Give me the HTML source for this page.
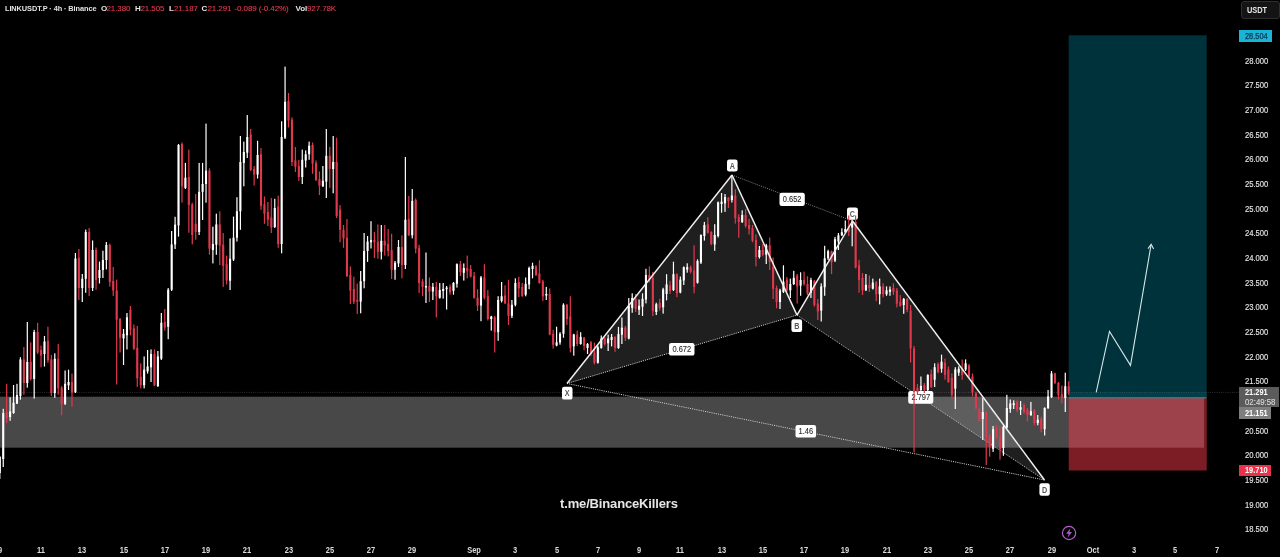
<!DOCTYPE html>
<html><head><meta charset="utf-8"><title>LINKUSDT.P 4h Binance</title>
<style>
html,body{margin:0;padding:0;background:#000;}
body{width:1280px;height:557px;overflow:hidden;position:relative;font-family:"Liberation Sans","DejaVu Sans",sans-serif;color:#d8d8d8;}
#chart{position:absolute;left:0;top:0;width:1280px;height:557px;filter:blur(0.35px)}
.legend{position:absolute;left:4.5px;top:2.5px;font-size:8px;line-height:11px;white-space:nowrap;color:#e4e4e4;font-weight:bold;letter-spacing:-0.1px}
.legend span{position:absolute;top:0}
.legend .r{color:#dc3a4f;font-weight:normal;-webkit-text-stroke:0.12px #dc3a4f}
.pl{position:absolute;left:1244.6px;width:30px;height:10px;line-height:10px;font-size:8.8px;transform:scaleX(0.868);transform-origin:0 50%;color:#e2e2e2;-webkit-text-stroke:0.15px #e2e2e2;text-align:left;white-space:nowrap}
.tl{position:absolute;top:544.8px;width:40px;height:10px;line-height:10px;font-size:8.5px;transform:scaleX(0.88);color:#dcdcdc;text-align:center;font-weight:bold}
.wm{position:absolute;left:560px;top:496px;font-size:13px;line-height:15px;font-weight:bold;color:#e6e6e6;white-space:nowrap;letter-spacing:-0.15px}
.unit{position:absolute;left:1241px;top:1px;width:39px;height:18px;border:1px solid #2e2e2e;border-radius:3px;background:#141414;box-sizing:border-box;color:#e6e6e6;font-size:8.6px;font-weight:bold;line-height:16.6px;text-align:left;padding-left:4.8px;letter-spacing:0}
.pt{position:absolute;left:1239px;font-size:8.8px;line-height:10px;color:#fff;white-space:nowrap;box-sizing:border-box;padding-left:5.5px;font-weight:bold;overflow:hidden}
.pt span{display:inline-block;transform:scaleX(0.84);transform-origin:0 50%}
</style></head><body>
<svg id="chart" width="1280" height="557" viewBox="0 0 1280 557" shape-rendering="auto">
<rect x="0" y="396.7" width="1204" height="51" fill="#484848"/>
<rect x="1068.7" y="35.3" width="138" height="363" fill="#00323b"/>
<rect x="1068.7" y="398.3" width="138" height="72.2" fill="#7c1d26"/>
<rect x="1068.7" y="398.3" width="135.3" height="49.4" fill="#9d424a"/>
<rect x="1068.7" y="392.4" width="137.8" height="5.4" fill="#003e49"/>
<rect x="1068.7" y="397.3" width="137.8" height="1.1" fill="#5f8c8e"/>
<polygon points="567,383.5 732,175 797,315.1" fill="#ffffff" fill-opacity="0.12"/>
<polygon points="797,315.1 852.5,221 1044.5,480" fill="#ffffff" fill-opacity="0.12"/>
<line x1="0" y1="392.4" x2="1240" y2="392.4" stroke="#8a8a8a" stroke-width="1" stroke-dasharray="1 1.2" opacity="0.34"/>
<line x1="567" y1="383.5" x2="797" y2="315.1" stroke="#cfcfcf" stroke-width="1" stroke-dasharray="1.1 1.1"/>
<line x1="732" y1="175" x2="852.5" y2="221" stroke="#7d7d7d" stroke-width="1" stroke-dasharray="1.1 1.1"/>
<line x1="797" y1="315.1" x2="1044.5" y2="480" stroke="#bdbdbd" stroke-width="1" stroke-dasharray="1.1 1.1"/>
<line x1="567" y1="383.5" x2="1044.5" y2="480" stroke="#cfcfcf" stroke-width="1" stroke-dasharray="1.1 1.1"/>
<rect x="727" y="159.5" width="10.6" height="12" rx="2.2" ry="2.2" fill="#ffffff"/>
<text transform="translate(732.30,0) scale(0.84,1)" x="0" y="168.55" font-size="8.6" text-anchor="middle" font-weight="bold" fill="#585858" font-family="Liberation Sans, DejaVu Sans, sans-serif">A</text>
<rect x="791.4" y="319.2" width="10.7" height="12.8" rx="2.2" ry="2.2" fill="#ffffff"/>
<text transform="translate(796.75,0) scale(0.84,1)" x="0" y="328.65" font-size="8.6" text-anchor="middle" font-weight="bold" fill="#585858" font-family="Liberation Sans, DejaVu Sans, sans-serif">B</text>
<rect x="847" y="207.4" width="10.9" height="12.4" rx="2.2" ry="2.2" fill="#ffffff"/>
<text transform="translate(852.45,0) scale(0.84,1)" x="0" y="216.65" font-size="8.6" text-anchor="middle" font-weight="bold" fill="#585858" font-family="Liberation Sans, DejaVu Sans, sans-serif">C</text>
<rect x="1039.4" y="483.3" width="10.4" height="12.4" rx="2.2" ry="2.2" fill="#ffffff"/>
<text transform="translate(1044.60,0) scale(0.84,1)" x="0" y="492.55" font-size="8.6" text-anchor="middle" font-weight="bold" fill="#585858" font-family="Liberation Sans, DejaVu Sans, sans-serif">D</text>
<rect x="562" y="386.8" width="10.5" height="12.8" rx="2.2" ry="2.2" fill="#ffffff"/>
<text transform="translate(567.25,0) scale(0.84,1)" x="0" y="396.25" font-size="8.6" text-anchor="middle" font-weight="bold" fill="#585858" font-family="Liberation Sans, DejaVu Sans, sans-serif">X</text>
<rect x="779.5" y="192.7" width="25.3" height="13.2" rx="2.2" ry="2.2" fill="#ffffff"/>
<text transform="translate(792.15,0) scale(0.87,1)" x="0" y="202.35" font-size="8.6" text-anchor="middle" fill="#2c2c2c" stroke="#2c2c2c" stroke-width="0.12" font-family="Liberation Sans, DejaVu Sans, sans-serif">0.652</text>
<rect x="669" y="343" width="25.5" height="12.6" rx="2.2" ry="2.2" fill="#ffffff"/>
<text transform="translate(681.75,0) scale(0.87,1)" x="0" y="352.35" font-size="8.6" text-anchor="middle" fill="#2c2c2c" stroke="#2c2c2c" stroke-width="0.12" font-family="Liberation Sans, DejaVu Sans, sans-serif">0.672</text>
<rect x="795.5" y="425" width="20.6" height="12.6" rx="2.2" ry="2.2" fill="#ffffff"/>
<text transform="translate(805.80,0) scale(0.87,1)" x="0" y="434.35" font-size="8.6" text-anchor="middle" fill="#2c2c2c" stroke="#2c2c2c" stroke-width="0.12" font-family="Liberation Sans, DejaVu Sans, sans-serif">1.46</text>
<rect x="908.2" y="391" width="25.1" height="12.7" rx="2.2" ry="2.2" fill="#ffffff"/>
<text transform="translate(920.75,0) scale(0.87,1)" x="0" y="400.40" font-size="8.6" text-anchor="middle" fill="#2c2c2c" stroke="#2c2c2c" stroke-width="0.12" font-family="Liberation Sans, DejaVu Sans, sans-serif">2.797</text>
<rect x="-0.80" y="456.0" width="1.2" height="23.0" fill="#ffffff"/>
<rect x="-1.25" y="457.0" width="2.1" height="16.0" fill="#ffffff"/>
<rect x="2.64" y="408.8" width="1.2" height="58.2" fill="#ffffff"/>
<rect x="2.19" y="413.0" width="2.1" height="46.0" fill="#ffffff"/>
<rect x="6.07" y="383.8" width="1.2" height="39.2" fill="#e0384d"/>
<rect x="5.62" y="412.0" width="2.1" height="6.5" fill="#e0384d"/>
<rect x="9.51" y="397.3" width="1.2" height="23.5" fill="#ffffff"/>
<rect x="9.06" y="411.4" width="2.1" height="5.6" fill="#ffffff"/>
<rect x="12.95" y="385.0" width="1.2" height="28.8" fill="#ffffff"/>
<rect x="12.50" y="402.8" width="2.1" height="10.2" fill="#ffffff"/>
<rect x="16.38" y="383.8" width="1.2" height="20.2" fill="#ffffff"/>
<rect x="15.93" y="395.0" width="2.1" height="8.6" fill="#ffffff"/>
<rect x="19.82" y="357.2" width="1.2" height="42.5" fill="#ffffff"/>
<rect x="19.37" y="359.5" width="2.1" height="36.5" fill="#ffffff"/>
<rect x="23.26" y="347.0" width="1.2" height="47.7" fill="#e0384d"/>
<rect x="22.81" y="359.5" width="2.1" height="23.5" fill="#e0384d"/>
<rect x="26.70" y="322.0" width="1.2" height="65.7" fill="#ffffff"/>
<rect x="26.25" y="362.0" width="2.1" height="21.0" fill="#ffffff"/>
<rect x="30.13" y="342.3" width="1.2" height="38.3" fill="#e0384d"/>
<rect x="29.68" y="362.0" width="2.1" height="17.0" fill="#e0384d"/>
<rect x="33.57" y="329.8" width="1.2" height="68.8" fill="#ffffff"/>
<rect x="33.12" y="332.0" width="2.1" height="47.0" fill="#ffffff"/>
<rect x="37.01" y="322.8" width="1.2" height="31.2" fill="#e0384d"/>
<rect x="36.56" y="332.0" width="2.1" height="20.5" fill="#e0384d"/>
<rect x="40.44" y="345.5" width="1.2" height="21.8" fill="#e0384d"/>
<rect x="39.99" y="350.0" width="2.1" height="5.6" fill="#e0384d"/>
<rect x="43.88" y="336.0" width="1.2" height="30.5" fill="#ffffff"/>
<rect x="43.43" y="341.5" width="2.1" height="12.5" fill="#ffffff"/>
<rect x="47.32" y="326.7" width="1.2" height="36.0" fill="#e0384d"/>
<rect x="46.87" y="340.8" width="2.1" height="19.5" fill="#e0384d"/>
<rect x="50.75" y="354.8" width="1.2" height="41.2" fill="#e0384d"/>
<rect x="50.30" y="359.5" width="2.1" height="33.5" fill="#e0384d"/>
<rect x="54.19" y="353.3" width="1.2" height="44.5" fill="#ffffff"/>
<rect x="53.74" y="358.8" width="2.1" height="34.2" fill="#ffffff"/>
<rect x="57.63" y="344.0" width="1.2" height="50.7" fill="#e0384d"/>
<rect x="57.18" y="358.8" width="2.1" height="29.6" fill="#e0384d"/>
<rect x="61.07" y="386.0" width="1.2" height="29.3" fill="#e0384d"/>
<rect x="60.62" y="387.7" width="2.1" height="16.7" fill="#e0384d"/>
<rect x="64.50" y="370.5" width="1.2" height="34.5" fill="#ffffff"/>
<rect x="64.05" y="383.8" width="2.1" height="19.9" fill="#ffffff"/>
<rect x="67.94" y="369.7" width="1.2" height="20.3" fill="#ffffff"/>
<rect x="67.49" y="382.0" width="2.1" height="3.3" fill="#ffffff"/>
<rect x="71.38" y="373.6" width="1.2" height="33.1" fill="#e0384d"/>
<rect x="70.93" y="382.0" width="2.1" height="10.3" fill="#e0384d"/>
<rect x="74.81" y="253.0" width="1.2" height="140.0" fill="#ffffff"/>
<rect x="74.36" y="258.5" width="2.1" height="133.8" fill="#ffffff"/>
<rect x="78.25" y="249.0" width="1.2" height="51.0" fill="#e0384d"/>
<rect x="77.80" y="257.7" width="2.1" height="30.3" fill="#e0384d"/>
<rect x="81.69" y="274.0" width="1.2" height="28.0" fill="#ffffff"/>
<rect x="81.24" y="278.8" width="2.1" height="9.2" fill="#ffffff"/>
<rect x="85.12" y="229.6" width="1.2" height="63.2" fill="#ffffff"/>
<rect x="84.67" y="232.0" width="2.1" height="46.8" fill="#ffffff"/>
<rect x="88.56" y="228.0" width="1.2" height="68.0" fill="#e0384d"/>
<rect x="88.11" y="232.0" width="2.1" height="56.0" fill="#e0384d"/>
<rect x="92.00" y="240.5" width="1.2" height="50.5" fill="#ffffff"/>
<rect x="91.55" y="250.0" width="2.1" height="38.0" fill="#ffffff"/>
<rect x="95.44" y="247.5" width="1.2" height="42.2" fill="#e0384d"/>
<rect x="94.99" y="250.0" width="2.1" height="30.0" fill="#e0384d"/>
<rect x="98.87" y="261.6" width="1.2" height="21.9" fill="#ffffff"/>
<rect x="98.42" y="270.0" width="2.1" height="8.0" fill="#ffffff"/>
<rect x="102.31" y="250.7" width="1.2" height="27.3" fill="#ffffff"/>
<rect x="101.86" y="260.0" width="2.1" height="10.0" fill="#ffffff"/>
<rect x="105.75" y="242.0" width="1.2" height="27.4" fill="#ffffff"/>
<rect x="105.30" y="245.0" width="2.1" height="15.0" fill="#ffffff"/>
<rect x="109.18" y="243.6" width="1.2" height="43.0" fill="#e0384d"/>
<rect x="108.73" y="245.0" width="2.1" height="37.0" fill="#e0384d"/>
<rect x="112.62" y="267.0" width="1.2" height="29.0" fill="#e0384d"/>
<rect x="112.17" y="281.0" width="2.1" height="9.5" fill="#e0384d"/>
<rect x="116.06" y="279.6" width="1.2" height="104.9" fill="#e0384d"/>
<rect x="115.61" y="290.5" width="2.1" height="29.2" fill="#e0384d"/>
<rect x="119.49" y="318.0" width="1.2" height="34.5" fill="#e0384d"/>
<rect x="119.04" y="319.0" width="2.1" height="18.7" fill="#e0384d"/>
<rect x="122.93" y="329.0" width="1.2" height="36.0" fill="#ffffff"/>
<rect x="122.48" y="333.8" width="2.1" height="4.6" fill="#ffffff"/>
<rect x="126.37" y="313.0" width="1.2" height="36.4" fill="#ffffff"/>
<rect x="125.92" y="317.3" width="2.1" height="18.0" fill="#ffffff"/>
<rect x="129.81" y="306.0" width="1.2" height="29.3" fill="#e0384d"/>
<rect x="129.36" y="310.0" width="2.1" height="19.8" fill="#e0384d"/>
<rect x="133.24" y="324.4" width="1.2" height="25.6" fill="#e0384d"/>
<rect x="132.79" y="328.3" width="2.1" height="20.3" fill="#e0384d"/>
<rect x="136.68" y="326.0" width="1.2" height="60.9" fill="#e0384d"/>
<rect x="136.23" y="347.8" width="2.1" height="30.5" fill="#e0384d"/>
<rect x="140.12" y="363.4" width="1.2" height="25.0" fill="#e0384d"/>
<rect x="139.67" y="376.7" width="2.1" height="8.6" fill="#e0384d"/>
<rect x="143.55" y="356.4" width="1.2" height="32.0" fill="#ffffff"/>
<rect x="143.10" y="369.7" width="2.1" height="15.6" fill="#ffffff"/>
<rect x="146.99" y="350.0" width="1.2" height="23.6" fill="#ffffff"/>
<rect x="146.54" y="366.5" width="2.1" height="4.8" fill="#ffffff"/>
<rect x="150.43" y="349.4" width="1.2" height="32.6" fill="#ffffff"/>
<rect x="149.98" y="354.0" width="2.1" height="13.3" fill="#ffffff"/>
<rect x="153.87" y="349.4" width="1.2" height="36.6" fill="#e0384d"/>
<rect x="153.41" y="354.0" width="2.1" height="31.3" fill="#e0384d"/>
<rect x="157.30" y="351.0" width="1.2" height="36.0" fill="#ffffff"/>
<rect x="156.85" y="356.4" width="2.1" height="29.6" fill="#ffffff"/>
<rect x="160.74" y="313.0" width="1.2" height="47.0" fill="#ffffff"/>
<rect x="160.29" y="322.8" width="2.1" height="35.9" fill="#ffffff"/>
<rect x="164.18" y="309.0" width="1.2" height="21.6" fill="#e0384d"/>
<rect x="163.73" y="322.0" width="2.1" height="5.5" fill="#e0384d"/>
<rect x="167.61" y="288.0" width="1.2" height="51.2" fill="#ffffff"/>
<rect x="167.16" y="289.7" width="2.1" height="37.0" fill="#ffffff"/>
<rect x="171.05" y="231.0" width="1.2" height="60.0" fill="#ffffff"/>
<rect x="170.60" y="244.4" width="2.1" height="45.3" fill="#ffffff"/>
<rect x="174.49" y="216.8" width="1.2" height="32.2" fill="#ffffff"/>
<rect x="174.04" y="224.6" width="2.1" height="19.8" fill="#ffffff"/>
<rect x="177.92" y="144.0" width="1.2" height="92.6" fill="#ffffff"/>
<rect x="177.47" y="145.0" width="2.1" height="80.4" fill="#ffffff"/>
<rect x="181.36" y="142.5" width="1.2" height="60.2" fill="#e0384d"/>
<rect x="180.91" y="144.0" width="2.1" height="42.3" fill="#e0384d"/>
<rect x="184.80" y="162.9" width="1.2" height="26.1" fill="#ffffff"/>
<rect x="184.35" y="177.7" width="2.1" height="10.2" fill="#ffffff"/>
<rect x="188.24" y="149.6" width="1.2" height="83.1" fill="#e0384d"/>
<rect x="187.78" y="177.0" width="2.1" height="28.0" fill="#e0384d"/>
<rect x="191.67" y="202.7" width="1.2" height="41.7" fill="#e0384d"/>
<rect x="191.22" y="204.3" width="2.1" height="30.7" fill="#e0384d"/>
<rect x="195.11" y="194.0" width="1.2" height="45.7" fill="#e0384d"/>
<rect x="194.66" y="223.8" width="2.1" height="8.2" fill="#e0384d"/>
<rect x="198.55" y="162.9" width="1.2" height="72.1" fill="#ffffff"/>
<rect x="198.10" y="191.8" width="2.1" height="40.2" fill="#ffffff"/>
<rect x="201.98" y="162.9" width="1.2" height="57.1" fill="#ffffff"/>
<rect x="201.53" y="184.0" width="2.1" height="7.8" fill="#ffffff"/>
<rect x="205.42" y="123.6" width="1.2" height="79.1" fill="#ffffff"/>
<rect x="204.97" y="170.7" width="2.1" height="13.3" fill="#ffffff"/>
<rect x="208.86" y="168.3" width="1.2" height="86.5" fill="#e0384d"/>
<rect x="208.41" y="170.7" width="2.1" height="77.9" fill="#e0384d"/>
<rect x="212.29" y="226.7" width="1.2" height="36.7" fill="#ffffff"/>
<rect x="211.84" y="244.0" width="2.1" height="6.0" fill="#ffffff"/>
<rect x="215.73" y="213.7" width="1.2" height="41.1" fill="#ffffff"/>
<rect x="215.28" y="224.4" width="2.1" height="20.3" fill="#ffffff"/>
<rect x="219.17" y="211.3" width="1.2" height="53.7" fill="#e0384d"/>
<rect x="218.72" y="224.4" width="2.1" height="21.1" fill="#e0384d"/>
<rect x="222.61" y="233.0" width="1.2" height="53.9" fill="#e0384d"/>
<rect x="222.16" y="244.7" width="2.1" height="21.1" fill="#e0384d"/>
<rect x="226.04" y="255.6" width="1.2" height="28.9" fill="#e0384d"/>
<rect x="225.59" y="264.2" width="2.1" height="16.4" fill="#e0384d"/>
<rect x="229.48" y="238.4" width="1.2" height="51.6" fill="#ffffff"/>
<rect x="229.03" y="258.8" width="2.1" height="21.9" fill="#ffffff"/>
<rect x="232.92" y="216.6" width="1.2" height="44.4" fill="#ffffff"/>
<rect x="232.47" y="237.7" width="2.1" height="21.8" fill="#ffffff"/>
<rect x="236.35" y="197.2" width="1.2" height="44.3" fill="#ffffff"/>
<rect x="235.90" y="211.3" width="2.1" height="26.4" fill="#ffffff"/>
<rect x="239.79" y="136.0" width="1.2" height="93.8" fill="#ffffff"/>
<rect x="239.34" y="162.0" width="2.1" height="49.3" fill="#ffffff"/>
<rect x="243.23" y="141.6" width="1.2" height="44.7" fill="#ffffff"/>
<rect x="242.78" y="152.0" width="2.1" height="10.9" fill="#ffffff"/>
<rect x="246.66" y="115.0" width="1.2" height="43.0" fill="#ffffff"/>
<rect x="246.21" y="137.0" width="2.1" height="15.7" fill="#ffffff"/>
<rect x="250.10" y="129.0" width="1.2" height="42.0" fill="#e0384d"/>
<rect x="249.65" y="134.5" width="2.1" height="35.5" fill="#e0384d"/>
<rect x="253.54" y="166.0" width="1.2" height="19.5" fill="#e0384d"/>
<rect x="253.09" y="169.0" width="2.1" height="5.6" fill="#e0384d"/>
<rect x="256.97" y="140.8" width="1.2" height="37.7" fill="#ffffff"/>
<rect x="256.52" y="155.0" width="2.1" height="19.6" fill="#ffffff"/>
<rect x="260.41" y="148.0" width="1.2" height="61.8" fill="#e0384d"/>
<rect x="259.96" y="154.3" width="2.1" height="51.5" fill="#e0384d"/>
<rect x="263.85" y="196.5" width="1.2" height="27.3" fill="#e0384d"/>
<rect x="263.40" y="204.3" width="2.1" height="9.3" fill="#e0384d"/>
<rect x="267.29" y="202.0" width="1.2" height="24.0" fill="#e0384d"/>
<rect x="266.84" y="212.0" width="2.1" height="7.7" fill="#e0384d"/>
<rect x="270.72" y="198.0" width="1.2" height="35.0" fill="#e0384d"/>
<rect x="270.27" y="217.5" width="2.1" height="10.0" fill="#e0384d"/>
<rect x="274.16" y="198.8" width="1.2" height="29.2" fill="#ffffff"/>
<rect x="273.71" y="208.0" width="2.1" height="19.0" fill="#ffffff"/>
<rect x="277.60" y="195.7" width="1.2" height="52.1" fill="#e0384d"/>
<rect x="277.15" y="206.6" width="2.1" height="37.4" fill="#e0384d"/>
<rect x="281.03" y="121.3" width="1.2" height="132.0" fill="#ffffff"/>
<rect x="280.58" y="137.0" width="2.1" height="107.0" fill="#ffffff"/>
<rect x="284.47" y="66.6" width="1.2" height="72.4" fill="#ffffff"/>
<rect x="284.02" y="101.8" width="2.1" height="35.9" fill="#ffffff"/>
<rect x="287.91" y="93.0" width="1.2" height="34.5" fill="#e0384d"/>
<rect x="287.46" y="101.0" width="2.1" height="19.5" fill="#e0384d"/>
<rect x="291.34" y="117.4" width="1.2" height="48.6" fill="#e0384d"/>
<rect x="290.89" y="119.7" width="2.1" height="42.3" fill="#e0384d"/>
<rect x="294.78" y="147.0" width="1.2" height="25.0" fill="#e0384d"/>
<rect x="294.33" y="160.5" width="2.1" height="6.3" fill="#e0384d"/>
<rect x="298.22" y="159.8" width="1.2" height="21.1" fill="#e0384d"/>
<rect x="297.77" y="166.0" width="2.1" height="11.0" fill="#e0384d"/>
<rect x="301.66" y="149.6" width="1.2" height="34.4" fill="#ffffff"/>
<rect x="301.21" y="159.8" width="2.1" height="17.2" fill="#ffffff"/>
<rect x="305.09" y="150.4" width="1.2" height="17.1" fill="#ffffff"/>
<rect x="304.64" y="154.3" width="2.1" height="6.2" fill="#ffffff"/>
<rect x="308.53" y="141.6" width="1.2" height="18.2" fill="#ffffff"/>
<rect x="308.08" y="145.7" width="2.1" height="8.6" fill="#ffffff"/>
<rect x="311.97" y="142.5" width="1.2" height="31.3" fill="#e0384d"/>
<rect x="311.52" y="145.0" width="2.1" height="18.6" fill="#e0384d"/>
<rect x="315.40" y="160.5" width="1.2" height="20.5" fill="#e0384d"/>
<rect x="314.95" y="162.9" width="2.1" height="17.1" fill="#e0384d"/>
<rect x="318.84" y="171.5" width="1.2" height="23.5" fill="#e0384d"/>
<rect x="318.39" y="179.3" width="2.1" height="6.2" fill="#e0384d"/>
<rect x="322.28" y="166.0" width="1.2" height="21.0" fill="#ffffff"/>
<rect x="321.83" y="180.8" width="2.1" height="5.5" fill="#ffffff"/>
<rect x="325.71" y="129.0" width="1.2" height="69.0" fill="#ffffff"/>
<rect x="325.26" y="155.8" width="2.1" height="25.8" fill="#ffffff"/>
<rect x="329.15" y="147.0" width="1.2" height="40.9" fill="#e0384d"/>
<rect x="328.70" y="155.8" width="2.1" height="13.2" fill="#e0384d"/>
<rect x="332.59" y="136.0" width="1.2" height="57.3" fill="#ffffff"/>
<rect x="332.14" y="162.0" width="2.1" height="7.0" fill="#ffffff"/>
<rect x="336.03" y="137.7" width="1.2" height="80.3" fill="#e0384d"/>
<rect x="335.58" y="162.0" width="2.1" height="54.0" fill="#e0384d"/>
<rect x="339.46" y="205.0" width="1.2" height="37.3" fill="#e0384d"/>
<rect x="339.01" y="209.8" width="2.1" height="20.1" fill="#e0384d"/>
<rect x="342.90" y="225.0" width="1.2" height="22.8" fill="#e0384d"/>
<rect x="342.45" y="229.8" width="2.1" height="8.6" fill="#e0384d"/>
<rect x="346.34" y="219.0" width="1.2" height="58.0" fill="#e0384d"/>
<rect x="345.89" y="237.7" width="2.1" height="38.3" fill="#e0384d"/>
<rect x="349.77" y="266.4" width="1.2" height="37.6" fill="#e0384d"/>
<rect x="349.32" y="275.0" width="2.1" height="15.6" fill="#e0384d"/>
<rect x="353.21" y="276.6" width="1.2" height="27.4" fill="#e0384d"/>
<rect x="352.76" y="289.0" width="2.1" height="12.6" fill="#e0384d"/>
<rect x="356.65" y="283.6" width="1.2" height="30.4" fill="#e0384d"/>
<rect x="356.20" y="300.0" width="2.1" height="1.6" fill="#e0384d"/>
<rect x="360.08" y="271.0" width="1.2" height="42.3" fill="#ffffff"/>
<rect x="359.63" y="281.2" width="2.1" height="20.4" fill="#ffffff"/>
<rect x="363.52" y="233.0" width="1.2" height="55.3" fill="#ffffff"/>
<rect x="363.07" y="251.0" width="2.1" height="30.2" fill="#ffffff"/>
<rect x="366.96" y="236.0" width="1.2" height="25.9" fill="#ffffff"/>
<rect x="366.51" y="241.6" width="2.1" height="9.4" fill="#ffffff"/>
<rect x="370.40" y="221.2" width="1.2" height="27.3" fill="#ffffff"/>
<rect x="369.95" y="240.0" width="2.1" height="2.3" fill="#ffffff"/>
<rect x="373.83" y="232.0" width="1.2" height="26.0" fill="#e0384d"/>
<rect x="373.38" y="240.0" width="2.1" height="2.3" fill="#e0384d"/>
<rect x="377.27" y="224.4" width="1.2" height="34.3" fill="#e0384d"/>
<rect x="376.82" y="241.6" width="2.1" height="10.1" fill="#e0384d"/>
<rect x="380.71" y="225.0" width="1.2" height="34.5" fill="#ffffff"/>
<rect x="380.26" y="240.8" width="2.1" height="10.9" fill="#ffffff"/>
<rect x="384.14" y="225.0" width="1.2" height="30.6" fill="#e0384d"/>
<rect x="383.69" y="240.8" width="2.1" height="4.7" fill="#e0384d"/>
<rect x="387.58" y="229.0" width="1.2" height="27.4" fill="#e0384d"/>
<rect x="387.13" y="244.0" width="2.1" height="7.0" fill="#e0384d"/>
<rect x="391.02" y="233.8" width="1.2" height="45.2" fill="#e0384d"/>
<rect x="390.57" y="250.0" width="2.1" height="19.7" fill="#e0384d"/>
<rect x="394.45" y="261.0" width="1.2" height="18.8" fill="#ffffff"/>
<rect x="394.00" y="262.7" width="2.1" height="7.0" fill="#ffffff"/>
<rect x="397.89" y="240.0" width="1.2" height="27.0" fill="#ffffff"/>
<rect x="397.44" y="247.0" width="2.1" height="16.4" fill="#ffffff"/>
<rect x="401.33" y="235.3" width="1.2" height="43.0" fill="#e0384d"/>
<rect x="400.88" y="247.0" width="2.1" height="18.0" fill="#e0384d"/>
<rect x="404.77" y="157.0" width="1.2" height="112.0" fill="#ffffff"/>
<rect x="404.32" y="219.7" width="2.1" height="45.3" fill="#ffffff"/>
<rect x="408.20" y="196.0" width="1.2" height="40.0" fill="#e0384d"/>
<rect x="407.75" y="218.9" width="2.1" height="16.4" fill="#e0384d"/>
<rect x="411.64" y="189.0" width="1.2" height="49.4" fill="#ffffff"/>
<rect x="411.19" y="200.8" width="2.1" height="34.5" fill="#ffffff"/>
<rect x="415.08" y="198.4" width="1.2" height="54.9" fill="#e0384d"/>
<rect x="414.63" y="200.0" width="2.1" height="48.6" fill="#e0384d"/>
<rect x="418.51" y="244.7" width="1.2" height="48.3" fill="#e0384d"/>
<rect x="418.06" y="247.8" width="2.1" height="35.2" fill="#e0384d"/>
<rect x="421.95" y="279.0" width="1.2" height="17.2" fill="#e0384d"/>
<rect x="421.50" y="281.4" width="2.1" height="5.5" fill="#e0384d"/>
<rect x="425.39" y="252.5" width="1.2" height="50.5" fill="#ffffff"/>
<rect x="424.94" y="286.0" width="2.1" height="1.5" fill="#ffffff"/>
<rect x="428.82" y="277.5" width="1.2" height="24.5" fill="#e0384d"/>
<rect x="428.38" y="286.0" width="2.1" height="5.5" fill="#e0384d"/>
<rect x="432.26" y="283.0" width="1.2" height="17.0" fill="#ffffff"/>
<rect x="431.81" y="286.9" width="2.1" height="4.6" fill="#ffffff"/>
<rect x="435.70" y="282.0" width="1.2" height="35.3" fill="#e0384d"/>
<rect x="435.25" y="286.9" width="2.1" height="9.4" fill="#e0384d"/>
<rect x="439.14" y="283.0" width="1.2" height="15.6" fill="#ffffff"/>
<rect x="438.69" y="290.0" width="2.1" height="7.8" fill="#ffffff"/>
<rect x="442.57" y="283.0" width="1.2" height="15.6" fill="#ffffff"/>
<rect x="442.12" y="289.0" width="2.1" height="2.0" fill="#ffffff"/>
<rect x="446.01" y="286.0" width="1.2" height="23.5" fill="#ffffff"/>
<rect x="445.56" y="287.6" width="2.1" height="1.6" fill="#ffffff"/>
<rect x="449.45" y="284.5" width="1.2" height="10.2" fill="#e0384d"/>
<rect x="449.00" y="286.9" width="2.1" height="5.4" fill="#e0384d"/>
<rect x="452.88" y="282.0" width="1.2" height="12.7" fill="#ffffff"/>
<rect x="452.43" y="283.0" width="2.1" height="7.8" fill="#ffffff"/>
<rect x="456.32" y="263.4" width="1.2" height="24.2" fill="#ffffff"/>
<rect x="455.87" y="264.2" width="2.1" height="19.6" fill="#ffffff"/>
<rect x="459.76" y="261.0" width="1.2" height="15.0" fill="#e0384d"/>
<rect x="459.31" y="264.2" width="2.1" height="7.8" fill="#e0384d"/>
<rect x="463.19" y="263.4" width="1.2" height="17.2" fill="#ffffff"/>
<rect x="462.75" y="268.0" width="2.1" height="4.8" fill="#ffffff"/>
<rect x="466.63" y="255.6" width="1.2" height="22.7" fill="#e0384d"/>
<rect x="466.18" y="268.0" width="2.1" height="3.2" fill="#e0384d"/>
<rect x="470.07" y="265.0" width="1.2" height="12.5" fill="#e0384d"/>
<rect x="469.62" y="269.0" width="2.1" height="7.7" fill="#e0384d"/>
<rect x="473.51" y="272.0" width="1.2" height="26.6" fill="#e0384d"/>
<rect x="473.06" y="276.0" width="2.1" height="21.8" fill="#e0384d"/>
<rect x="476.94" y="289.2" width="1.2" height="21.8" fill="#e0384d"/>
<rect x="476.49" y="297.8" width="2.1" height="7.8" fill="#e0384d"/>
<rect x="480.38" y="276.0" width="1.2" height="45.2" fill="#ffffff"/>
<rect x="479.93" y="277.5" width="2.1" height="28.1" fill="#ffffff"/>
<rect x="483.82" y="264.2" width="1.2" height="35.2" fill="#e0384d"/>
<rect x="483.37" y="277.5" width="2.1" height="20.3" fill="#e0384d"/>
<rect x="487.25" y="290.0" width="1.2" height="30.5" fill="#e0384d"/>
<rect x="486.80" y="296.2" width="2.1" height="22.8" fill="#e0384d"/>
<rect x="490.69" y="315.8" width="1.2" height="14.8" fill="#ffffff"/>
<rect x="490.24" y="316.5" width="2.1" height="2.5" fill="#ffffff"/>
<rect x="494.13" y="315.8" width="1.2" height="36.7" fill="#e0384d"/>
<rect x="493.68" y="317.3" width="2.1" height="14.9" fill="#e0384d"/>
<rect x="497.56" y="296.2" width="1.2" height="44.6" fill="#ffffff"/>
<rect x="497.11" y="300.0" width="2.1" height="32.2" fill="#ffffff"/>
<rect x="501.00" y="282.0" width="1.2" height="20.5" fill="#ffffff"/>
<rect x="500.55" y="296.2" width="2.1" height="4.8" fill="#ffffff"/>
<rect x="504.44" y="285.3" width="1.2" height="18.7" fill="#e0384d"/>
<rect x="503.99" y="295.5" width="2.1" height="7.8" fill="#e0384d"/>
<rect x="507.88" y="279.8" width="1.2" height="45.2" fill="#e0384d"/>
<rect x="507.43" y="303.3" width="2.1" height="12.5" fill="#e0384d"/>
<rect x="511.31" y="300.0" width="1.2" height="18.0" fill="#ffffff"/>
<rect x="510.86" y="304.8" width="2.1" height="11.0" fill="#ffffff"/>
<rect x="514.75" y="278.3" width="1.2" height="28.1" fill="#ffffff"/>
<rect x="514.30" y="283.0" width="2.1" height="21.8" fill="#ffffff"/>
<rect x="518.19" y="276.7" width="1.2" height="20.3" fill="#e0384d"/>
<rect x="517.74" y="282.0" width="2.1" height="6.4" fill="#e0384d"/>
<rect x="521.62" y="283.0" width="1.2" height="13.5" fill="#e0384d"/>
<rect x="521.17" y="286.9" width="2.1" height="9.4" fill="#e0384d"/>
<rect x="525.06" y="277.5" width="1.2" height="18.8" fill="#ffffff"/>
<rect x="524.61" y="283.8" width="2.1" height="10.9" fill="#ffffff"/>
<rect x="528.50" y="266.6" width="1.2" height="22.6" fill="#ffffff"/>
<rect x="528.05" y="268.0" width="2.1" height="16.5" fill="#ffffff"/>
<rect x="531.93" y="262.7" width="1.2" height="15.6" fill="#ffffff"/>
<rect x="531.49" y="265.8" width="2.1" height="3.2" fill="#ffffff"/>
<rect x="535.37" y="265.0" width="1.2" height="11.0" fill="#e0384d"/>
<rect x="534.92" y="266.6" width="2.1" height="8.4" fill="#e0384d"/>
<rect x="538.81" y="260.3" width="1.2" height="23.4" fill="#e0384d"/>
<rect x="538.36" y="273.6" width="2.1" height="9.4" fill="#e0384d"/>
<rect x="542.25" y="279.8" width="1.2" height="21.2" fill="#e0384d"/>
<rect x="541.80" y="281.4" width="2.1" height="14.9" fill="#e0384d"/>
<rect x="545.68" y="286.9" width="1.2" height="13.1" fill="#ffffff"/>
<rect x="545.23" y="294.0" width="2.1" height="1.5" fill="#ffffff"/>
<rect x="549.12" y="288.4" width="1.2" height="46.9" fill="#e0384d"/>
<rect x="548.67" y="294.0" width="2.1" height="40.5" fill="#e0384d"/>
<rect x="552.56" y="329.8" width="1.2" height="18.8" fill="#e0384d"/>
<rect x="552.11" y="333.8" width="2.1" height="10.9" fill="#e0384d"/>
<rect x="555.99" y="326.7" width="1.2" height="19.6" fill="#ffffff"/>
<rect x="555.54" y="342.3" width="2.1" height="3.2" fill="#ffffff"/>
<rect x="559.43" y="332.2" width="1.2" height="12.5" fill="#ffffff"/>
<rect x="558.98" y="333.8" width="2.1" height="8.6" fill="#ffffff"/>
<rect x="562.87" y="303.3" width="1.2" height="34.4" fill="#ffffff"/>
<rect x="562.42" y="304.8" width="2.1" height="28.9" fill="#ffffff"/>
<rect x="566.30" y="304.0" width="1.2" height="21.0" fill="#e0384d"/>
<rect x="565.86" y="304.8" width="2.1" height="14.2" fill="#e0384d"/>
<rect x="569.74" y="296.2" width="1.2" height="56.2" fill="#e0384d"/>
<rect x="569.29" y="316.5" width="2.1" height="31.3" fill="#e0384d"/>
<rect x="573.18" y="333.8" width="1.2" height="21.9" fill="#ffffff"/>
<rect x="572.73" y="334.5" width="2.1" height="11.8" fill="#ffffff"/>
<rect x="576.62" y="330.6" width="1.2" height="15.6" fill="#e0384d"/>
<rect x="576.17" y="334.5" width="2.1" height="9.5" fill="#e0384d"/>
<rect x="580.05" y="332.2" width="1.2" height="12.5" fill="#ffffff"/>
<rect x="579.60" y="336.9" width="2.1" height="7.1" fill="#ffffff"/>
<rect x="583.49" y="336.9" width="1.2" height="13.4" fill="#e0384d"/>
<rect x="583.04" y="337.7" width="2.1" height="8.3" fill="#e0384d"/>
<rect x="586.93" y="343.0" width="1.2" height="11.0" fill="#ffffff"/>
<rect x="586.48" y="344.0" width="2.1" height="4.0" fill="#ffffff"/>
<rect x="590.36" y="341.0" width="1.2" height="14.8" fill="#e0384d"/>
<rect x="589.91" y="342.5" width="2.1" height="10.9" fill="#e0384d"/>
<rect x="593.80" y="342.5" width="1.2" height="21.9" fill="#e0384d"/>
<rect x="593.35" y="352.6" width="2.1" height="10.2" fill="#e0384d"/>
<rect x="597.24" y="345.6" width="1.2" height="18.0" fill="#ffffff"/>
<rect x="596.79" y="347.2" width="2.1" height="15.6" fill="#ffffff"/>
<rect x="600.67" y="335.5" width="1.2" height="13.2" fill="#ffffff"/>
<rect x="600.23" y="338.6" width="2.1" height="9.4" fill="#ffffff"/>
<rect x="604.11" y="337.0" width="1.2" height="8.6" fill="#e0384d"/>
<rect x="603.66" y="338.6" width="2.1" height="5.4" fill="#e0384d"/>
<rect x="607.55" y="334.7" width="1.2" height="16.3" fill="#ffffff"/>
<rect x="607.10" y="338.6" width="2.1" height="4.7" fill="#ffffff"/>
<rect x="610.99" y="334.0" width="1.2" height="12.4" fill="#ffffff"/>
<rect x="610.54" y="337.0" width="2.1" height="3.0" fill="#ffffff"/>
<rect x="614.42" y="336.2" width="1.2" height="15.6" fill="#e0384d"/>
<rect x="613.97" y="337.0" width="2.1" height="11.0" fill="#e0384d"/>
<rect x="617.86" y="326.9" width="1.2" height="21.9" fill="#ffffff"/>
<rect x="617.41" y="334.0" width="2.1" height="14.0" fill="#ffffff"/>
<rect x="621.30" y="317.5" width="1.2" height="26.5" fill="#ffffff"/>
<rect x="620.85" y="327.7" width="2.1" height="7.0" fill="#ffffff"/>
<rect x="624.73" y="326.0" width="1.2" height="15.0" fill="#e0384d"/>
<rect x="624.28" y="327.7" width="2.1" height="10.1" fill="#e0384d"/>
<rect x="628.17" y="298.0" width="1.2" height="41.4" fill="#ffffff"/>
<rect x="627.72" y="305.8" width="2.1" height="32.8" fill="#ffffff"/>
<rect x="631.61" y="293.3" width="1.2" height="19.5" fill="#ffffff"/>
<rect x="631.16" y="298.0" width="2.1" height="10.0" fill="#ffffff"/>
<rect x="635.04" y="294.0" width="1.2" height="18.0" fill="#e0384d"/>
<rect x="634.59" y="298.8" width="2.1" height="10.2" fill="#e0384d"/>
<rect x="638.48" y="299.5" width="1.2" height="15.5" fill="#ffffff"/>
<rect x="638.03" y="305.8" width="2.1" height="3.9" fill="#ffffff"/>
<rect x="641.92" y="293.3" width="1.2" height="22.7" fill="#ffffff"/>
<rect x="641.47" y="298.8" width="2.1" height="7.9" fill="#ffffff"/>
<rect x="645.36" y="268.8" width="1.2" height="34.6" fill="#ffffff"/>
<rect x="644.91" y="275.0" width="2.1" height="24.5" fill="#ffffff"/>
<rect x="648.79" y="266.4" width="1.2" height="15.9" fill="#e0384d"/>
<rect x="648.34" y="275.0" width="2.1" height="4.7" fill="#e0384d"/>
<rect x="652.23" y="271.9" width="1.2" height="44.1" fill="#e0384d"/>
<rect x="651.78" y="278.0" width="2.1" height="33.2" fill="#e0384d"/>
<rect x="655.67" y="302.7" width="1.2" height="12.3" fill="#ffffff"/>
<rect x="655.22" y="304.2" width="2.1" height="7.8" fill="#ffffff"/>
<rect x="659.10" y="298.8" width="1.2" height="11.8" fill="#e0384d"/>
<rect x="658.65" y="302.7" width="2.1" height="5.3" fill="#e0384d"/>
<rect x="662.54" y="287.8" width="1.2" height="25.8" fill="#ffffff"/>
<rect x="662.09" y="289.4" width="2.1" height="17.9" fill="#ffffff"/>
<rect x="665.98" y="274.2" width="1.2" height="26.1" fill="#ffffff"/>
<rect x="665.53" y="284.4" width="2.1" height="9.6" fill="#ffffff"/>
<rect x="669.41" y="280.8" width="1.2" height="13.2" fill="#e0384d"/>
<rect x="668.96" y="285.5" width="2.1" height="5.5" fill="#e0384d"/>
<rect x="672.85" y="261.7" width="1.2" height="29.3" fill="#ffffff"/>
<rect x="672.40" y="274.2" width="2.1" height="15.8" fill="#ffffff"/>
<rect x="676.29" y="273.4" width="1.2" height="23.8" fill="#e0384d"/>
<rect x="675.84" y="274.2" width="2.1" height="19.1" fill="#e0384d"/>
<rect x="679.73" y="276.5" width="1.2" height="16.8" fill="#ffffff"/>
<rect x="679.28" y="279.7" width="2.1" height="12.8" fill="#ffffff"/>
<rect x="683.16" y="266.4" width="1.2" height="18.6" fill="#ffffff"/>
<rect x="682.71" y="267.2" width="2.1" height="13.3" fill="#ffffff"/>
<rect x="686.60" y="263.3" width="1.2" height="9.4" fill="#ffffff"/>
<rect x="686.15" y="267.2" width="2.1" height="2.3" fill="#ffffff"/>
<rect x="690.04" y="265.6" width="1.2" height="7.8" fill="#e0384d"/>
<rect x="689.59" y="267.2" width="2.1" height="4.7" fill="#e0384d"/>
<rect x="693.47" y="245.3" width="1.2" height="48.0" fill="#e0384d"/>
<rect x="693.02" y="270.3" width="2.1" height="16.7" fill="#e0384d"/>
<rect x="696.91" y="259.4" width="1.2" height="24.2" fill="#ffffff"/>
<rect x="696.46" y="261.0" width="2.1" height="21.8" fill="#ffffff"/>
<rect x="700.35" y="234.4" width="1.2" height="29.6" fill="#ffffff"/>
<rect x="699.90" y="235.0" width="2.1" height="27.5" fill="#ffffff"/>
<rect x="703.78" y="221.9" width="1.2" height="18.7" fill="#ffffff"/>
<rect x="703.33" y="225.0" width="2.1" height="11.0" fill="#ffffff"/>
<rect x="707.22" y="217.2" width="1.2" height="16.4" fill="#e0384d"/>
<rect x="706.77" y="224.2" width="2.1" height="8.6" fill="#e0384d"/>
<rect x="710.66" y="231.2" width="1.2" height="14.1" fill="#e0384d"/>
<rect x="710.21" y="232.0" width="2.1" height="11.8" fill="#e0384d"/>
<rect x="714.10" y="224.2" width="1.2" height="26.6" fill="#ffffff"/>
<rect x="713.65" y="235.0" width="2.1" height="9.5" fill="#ffffff"/>
<rect x="717.53" y="201.5" width="1.2" height="36.0" fill="#ffffff"/>
<rect x="717.08" y="202.3" width="2.1" height="33.7" fill="#ffffff"/>
<rect x="720.97" y="193.0" width="1.2" height="19.7" fill="#ffffff"/>
<rect x="720.52" y="201.7" width="2.1" height="2.3" fill="#ffffff"/>
<rect x="724.41" y="194.0" width="1.2" height="17.9" fill="#ffffff"/>
<rect x="723.96" y="197.0" width="2.1" height="6.3" fill="#ffffff"/>
<rect x="727.84" y="197.0" width="1.2" height="11.0" fill="#e0384d"/>
<rect x="727.39" y="197.8" width="2.1" height="3.2" fill="#e0384d"/>
<rect x="731.28" y="176.0" width="1.2" height="26.5" fill="#ffffff"/>
<rect x="730.83" y="195.5" width="2.1" height="4.5" fill="#ffffff"/>
<rect x="734.72" y="189.2" width="1.2" height="34.4" fill="#e0384d"/>
<rect x="734.27" y="195.5" width="2.1" height="22.5" fill="#e0384d"/>
<rect x="738.15" y="214.2" width="1.2" height="23.5" fill="#e0384d"/>
<rect x="737.70" y="217.3" width="2.1" height="4.7" fill="#e0384d"/>
<rect x="741.59" y="210.3" width="1.2" height="12.7" fill="#ffffff"/>
<rect x="741.14" y="215.0" width="2.1" height="7.0" fill="#ffffff"/>
<rect x="745.03" y="208.8" width="1.2" height="18.8" fill="#e0384d"/>
<rect x="744.58" y="215.0" width="2.1" height="11.0" fill="#e0384d"/>
<rect x="748.47" y="219.0" width="1.2" height="15.5" fill="#e0384d"/>
<rect x="748.02" y="225.0" width="2.1" height="4.0" fill="#e0384d"/>
<rect x="751.90" y="225.0" width="1.2" height="17.3" fill="#e0384d"/>
<rect x="751.45" y="228.3" width="2.1" height="12.5" fill="#e0384d"/>
<rect x="755.34" y="234.5" width="1.2" height="31.9" fill="#e0384d"/>
<rect x="754.89" y="240.0" width="2.1" height="17.0" fill="#e0384d"/>
<rect x="758.78" y="246.0" width="1.2" height="12.6" fill="#ffffff"/>
<rect x="758.33" y="250.0" width="2.1" height="7.0" fill="#ffffff"/>
<rect x="762.21" y="243.8" width="1.2" height="12.5" fill="#e0384d"/>
<rect x="761.76" y="250.0" width="2.1" height="4.7" fill="#e0384d"/>
<rect x="765.65" y="243.8" width="1.2" height="20.2" fill="#ffffff"/>
<rect x="765.20" y="245.3" width="2.1" height="9.4" fill="#ffffff"/>
<rect x="769.09" y="237.5" width="1.2" height="32.5" fill="#e0384d"/>
<rect x="768.64" y="245.3" width="2.1" height="16.7" fill="#e0384d"/>
<rect x="772.52" y="257.5" width="1.2" height="41.5" fill="#e0384d"/>
<rect x="772.07" y="266.9" width="2.1" height="21.9" fill="#e0384d"/>
<rect x="775.96" y="285.6" width="1.2" height="22.7" fill="#e0384d"/>
<rect x="775.51" y="288.0" width="2.1" height="14.0" fill="#e0384d"/>
<rect x="779.40" y="288.8" width="1.2" height="20.2" fill="#ffffff"/>
<rect x="778.95" y="290.3" width="2.1" height="11.7" fill="#ffffff"/>
<rect x="782.84" y="265.3" width="1.2" height="27.7" fill="#ffffff"/>
<rect x="782.39" y="281.7" width="2.1" height="10.2" fill="#ffffff"/>
<rect x="786.27" y="277.0" width="1.2" height="15.0" fill="#e0384d"/>
<rect x="785.82" y="279.4" width="2.1" height="10.9" fill="#e0384d"/>
<rect x="789.71" y="278.6" width="1.2" height="19.4" fill="#ffffff"/>
<rect x="789.26" y="284.0" width="2.1" height="6.3" fill="#ffffff"/>
<rect x="793.15" y="270.8" width="1.2" height="14.2" fill="#ffffff"/>
<rect x="792.70" y="277.8" width="2.1" height="6.2" fill="#ffffff"/>
<rect x="796.58" y="274.0" width="1.2" height="29.6" fill="#e0384d"/>
<rect x="796.13" y="275.5" width="2.1" height="10.9" fill="#e0384d"/>
<rect x="800.02" y="272.3" width="1.2" height="23.5" fill="#ffffff"/>
<rect x="799.57" y="280.0" width="2.1" height="5.6" fill="#ffffff"/>
<rect x="803.46" y="271.6" width="1.2" height="14.0" fill="#e0384d"/>
<rect x="803.01" y="280.0" width="2.1" height="4.0" fill="#e0384d"/>
<rect x="806.89" y="276.2" width="1.2" height="18.8" fill="#e0384d"/>
<rect x="806.44" y="284.0" width="2.1" height="9.4" fill="#e0384d"/>
<rect x="810.33" y="277.8" width="1.2" height="20.2" fill="#ffffff"/>
<rect x="809.88" y="280.0" width="2.1" height="12.7" fill="#ffffff"/>
<rect x="813.77" y="280.0" width="1.2" height="26.7" fill="#e0384d"/>
<rect x="813.32" y="281.0" width="2.1" height="24.0" fill="#e0384d"/>
<rect x="817.21" y="299.0" width="1.2" height="21.0" fill="#e0384d"/>
<rect x="816.76" y="303.6" width="2.1" height="7.8" fill="#e0384d"/>
<rect x="820.64" y="283.3" width="1.2" height="38.2" fill="#ffffff"/>
<rect x="820.19" y="286.4" width="2.1" height="24.2" fill="#ffffff"/>
<rect x="824.08" y="245.8" width="1.2" height="50.0" fill="#ffffff"/>
<rect x="823.63" y="258.3" width="2.1" height="28.9" fill="#ffffff"/>
<rect x="827.52" y="249.7" width="1.2" height="10.3" fill="#ffffff"/>
<rect x="827.07" y="251.2" width="2.1" height="7.1" fill="#ffffff"/>
<rect x="830.95" y="250.5" width="1.2" height="23.5" fill="#e0384d"/>
<rect x="830.50" y="251.2" width="2.1" height="10.9" fill="#e0384d"/>
<rect x="834.39" y="236.9" width="1.2" height="25.1" fill="#ffffff"/>
<rect x="833.94" y="239.2" width="2.1" height="21.4" fill="#ffffff"/>
<rect x="837.83" y="233.0" width="1.2" height="17.0" fill="#ffffff"/>
<rect x="837.38" y="235.3" width="2.1" height="6.2" fill="#ffffff"/>
<rect x="841.26" y="228.3" width="1.2" height="7.7" fill="#ffffff"/>
<rect x="840.81" y="232.2" width="2.1" height="3.1" fill="#ffffff"/>
<rect x="844.70" y="220.5" width="1.2" height="12.5" fill="#ffffff"/>
<rect x="844.25" y="229.0" width="2.1" height="3.2" fill="#ffffff"/>
<rect x="848.14" y="215.5" width="1.2" height="20.5" fill="#e0384d"/>
<rect x="847.69" y="226.0" width="2.1" height="6.2" fill="#e0384d"/>
<rect x="851.58" y="219.7" width="1.2" height="26.6" fill="#ffffff"/>
<rect x="851.13" y="223.6" width="2.1" height="3.9" fill="#ffffff"/>
<rect x="855.01" y="215.5" width="1.2" height="52.9" fill="#e0384d"/>
<rect x="854.56" y="222.0" width="2.1" height="45.7" fill="#e0384d"/>
<rect x="858.45" y="259.8" width="1.2" height="32.9" fill="#e0384d"/>
<rect x="858.00" y="265.3" width="2.1" height="14.7" fill="#e0384d"/>
<rect x="861.89" y="273.0" width="1.2" height="22.0" fill="#e0384d"/>
<rect x="861.44" y="277.8" width="2.1" height="12.5" fill="#e0384d"/>
<rect x="865.32" y="274.0" width="1.2" height="17.0" fill="#ffffff"/>
<rect x="864.87" y="284.8" width="2.1" height="5.5" fill="#ffffff"/>
<rect x="868.76" y="275.5" width="1.2" height="16.4" fill="#e0384d"/>
<rect x="868.31" y="284.8" width="2.1" height="3.2" fill="#e0384d"/>
<rect x="872.20" y="278.6" width="1.2" height="10.9" fill="#ffffff"/>
<rect x="871.75" y="282.5" width="2.1" height="6.2" fill="#ffffff"/>
<rect x="875.63" y="281.0" width="1.2" height="20.2" fill="#e0384d"/>
<rect x="875.18" y="282.5" width="2.1" height="11.7" fill="#e0384d"/>
<rect x="879.07" y="278.6" width="1.2" height="25.8" fill="#ffffff"/>
<rect x="878.62" y="286.4" width="2.1" height="7.8" fill="#ffffff"/>
<rect x="882.51" y="283.3" width="1.2" height="14.0" fill="#e0384d"/>
<rect x="882.06" y="286.4" width="2.1" height="7.8" fill="#e0384d"/>
<rect x="885.95" y="286.4" width="1.2" height="9.4" fill="#ffffff"/>
<rect x="885.50" y="290.3" width="2.1" height="3.9" fill="#ffffff"/>
<rect x="889.38" y="286.4" width="1.2" height="9.4" fill="#ffffff"/>
<rect x="888.93" y="289.5" width="2.1" height="2.4" fill="#ffffff"/>
<rect x="892.82" y="283.3" width="1.2" height="11.7" fill="#e0384d"/>
<rect x="892.37" y="288.0" width="2.1" height="3.9" fill="#e0384d"/>
<rect x="896.26" y="288.0" width="1.2" height="19.5" fill="#e0384d"/>
<rect x="895.81" y="290.3" width="2.1" height="13.3" fill="#e0384d"/>
<rect x="899.69" y="295.0" width="1.2" height="11.7" fill="#e0384d"/>
<rect x="899.24" y="302.0" width="2.1" height="4.0" fill="#e0384d"/>
<rect x="903.13" y="298.0" width="1.2" height="15.8" fill="#ffffff"/>
<rect x="902.68" y="299.0" width="2.1" height="6.0" fill="#ffffff"/>
<rect x="906.57" y="298.0" width="1.2" height="14.2" fill="#e0384d"/>
<rect x="906.12" y="299.0" width="2.1" height="10.8" fill="#e0384d"/>
<rect x="910.00" y="305.0" width="1.2" height="57.5" fill="#e0384d"/>
<rect x="909.55" y="310.6" width="2.1" height="37.8" fill="#e0384d"/>
<rect x="913.44" y="346.0" width="1.2" height="106.5" fill="#e0384d"/>
<rect x="912.99" y="348.4" width="2.1" height="43.6" fill="#e0384d"/>
<rect x="916.88" y="384.0" width="1.2" height="11.0" fill="#e0384d"/>
<rect x="916.43" y="388.0" width="2.1" height="4.0" fill="#e0384d"/>
<rect x="920.32" y="376.5" width="1.2" height="14.5" fill="#ffffff"/>
<rect x="919.87" y="386.0" width="2.1" height="4.0" fill="#ffffff"/>
<rect x="923.75" y="383.0" width="1.2" height="10.0" fill="#e0384d"/>
<rect x="923.30" y="385.0" width="2.1" height="5.0" fill="#e0384d"/>
<rect x="927.19" y="374.2" width="1.2" height="16.8" fill="#ffffff"/>
<rect x="926.74" y="375.0" width="2.1" height="15.0" fill="#ffffff"/>
<rect x="930.63" y="369.5" width="1.2" height="18.5" fill="#e0384d"/>
<rect x="930.18" y="374.2" width="2.1" height="12.8" fill="#e0384d"/>
<rect x="934.06" y="363.3" width="1.2" height="23.7" fill="#ffffff"/>
<rect x="933.61" y="367.2" width="2.1" height="12.5" fill="#ffffff"/>
<rect x="937.50" y="362.5" width="1.2" height="10.9" fill="#e0384d"/>
<rect x="937.05" y="364.0" width="2.1" height="8.0" fill="#e0384d"/>
<rect x="940.94" y="354.7" width="1.2" height="18.0" fill="#ffffff"/>
<rect x="940.49" y="361.7" width="2.1" height="7.1" fill="#ffffff"/>
<rect x="944.37" y="358.6" width="1.2" height="21.1" fill="#e0384d"/>
<rect x="943.92" y="362.5" width="2.1" height="12.5" fill="#e0384d"/>
<rect x="947.81" y="366.4" width="1.2" height="16.4" fill="#e0384d"/>
<rect x="947.36" y="369.5" width="2.1" height="12.5" fill="#e0384d"/>
<rect x="951.25" y="373.4" width="1.2" height="26.1" fill="#e0384d"/>
<rect x="950.80" y="378.0" width="2.1" height="16.8" fill="#e0384d"/>
<rect x="954.69" y="367.2" width="1.2" height="41.8" fill="#ffffff"/>
<rect x="954.24" y="369.5" width="2.1" height="19.1" fill="#ffffff"/>
<rect x="958.12" y="366.4" width="1.2" height="9.4" fill="#ffffff"/>
<rect x="957.67" y="368.8" width="2.1" height="3.9" fill="#ffffff"/>
<rect x="961.56" y="359.4" width="1.2" height="20.3" fill="#e0384d"/>
<rect x="961.11" y="368.8" width="2.1" height="6.2" fill="#e0384d"/>
<rect x="965.00" y="359.4" width="1.2" height="11.6" fill="#ffffff"/>
<rect x="964.55" y="363.3" width="2.1" height="6.2" fill="#ffffff"/>
<rect x="968.43" y="364.0" width="1.2" height="14.0" fill="#e0384d"/>
<rect x="967.98" y="365.6" width="2.1" height="11.0" fill="#e0384d"/>
<rect x="971.87" y="373.4" width="1.2" height="23.0" fill="#e0384d"/>
<rect x="971.42" y="376.6" width="2.1" height="15.9" fill="#e0384d"/>
<rect x="975.31" y="391.7" width="1.2" height="18.0" fill="#e0384d"/>
<rect x="974.86" y="393.3" width="2.1" height="14.7" fill="#e0384d"/>
<rect x="978.74" y="407.3" width="1.2" height="14.1" fill="#e0384d"/>
<rect x="978.29" y="409.0" width="2.1" height="11.6" fill="#e0384d"/>
<rect x="982.18" y="398.0" width="1.2" height="42.0" fill="#ffffff"/>
<rect x="981.73" y="412.0" width="2.1" height="7.0" fill="#ffffff"/>
<rect x="985.62" y="411.2" width="1.2" height="53.8" fill="#e0384d"/>
<rect x="985.17" y="412.0" width="2.1" height="25.0" fill="#e0384d"/>
<rect x="989.06" y="434.0" width="1.2" height="22.6" fill="#e0384d"/>
<rect x="988.61" y="436.2" width="2.1" height="10.9" fill="#e0384d"/>
<rect x="992.49" y="426.0" width="1.2" height="25.9" fill="#ffffff"/>
<rect x="992.04" y="429.2" width="2.1" height="19.6" fill="#ffffff"/>
<rect x="995.93" y="425.3" width="1.2" height="13.3" fill="#e0384d"/>
<rect x="995.48" y="427.7" width="2.1" height="10.1" fill="#e0384d"/>
<rect x="999.37" y="426.9" width="1.2" height="32.8" fill="#e0384d"/>
<rect x="998.92" y="437.0" width="2.1" height="11.8" fill="#e0384d"/>
<rect x="1002.80" y="425.3" width="1.2" height="30.5" fill="#ffffff"/>
<rect x="1002.35" y="426.9" width="2.1" height="21.1" fill="#ffffff"/>
<rect x="1006.24" y="394.8" width="1.2" height="33.6" fill="#ffffff"/>
<rect x="1005.79" y="408.0" width="2.1" height="19.7" fill="#ffffff"/>
<rect x="1009.68" y="399.5" width="1.2" height="13.3" fill="#ffffff"/>
<rect x="1009.23" y="403.4" width="2.1" height="5.6" fill="#ffffff"/>
<rect x="1013.11" y="400.3" width="1.2" height="8.7" fill="#ffffff"/>
<rect x="1012.66" y="403.4" width="2.1" height="1.6" fill="#ffffff"/>
<rect x="1016.55" y="400.3" width="1.2" height="11.7" fill="#e0384d"/>
<rect x="1016.10" y="401.9" width="2.1" height="7.8" fill="#e0384d"/>
<rect x="1019.99" y="401.0" width="1.2" height="14.0" fill="#ffffff"/>
<rect x="1019.54" y="407.3" width="2.1" height="2.4" fill="#ffffff"/>
<rect x="1023.43" y="403.4" width="1.2" height="10.2" fill="#e0384d"/>
<rect x="1022.98" y="405.0" width="2.1" height="7.0" fill="#e0384d"/>
<rect x="1026.86" y="408.0" width="1.2" height="13.4" fill="#e0384d"/>
<rect x="1026.41" y="409.7" width="2.1" height="5.3" fill="#e0384d"/>
<rect x="1030.30" y="401.9" width="1.2" height="14.1" fill="#ffffff"/>
<rect x="1029.85" y="411.2" width="2.1" height="3.8" fill="#ffffff"/>
<rect x="1033.74" y="409.0" width="1.2" height="16.3" fill="#e0384d"/>
<rect x="1033.29" y="410.5" width="2.1" height="12.5" fill="#e0384d"/>
<rect x="1037.17" y="415.0" width="1.2" height="10.3" fill="#ffffff"/>
<rect x="1036.72" y="419.8" width="2.1" height="3.2" fill="#ffffff"/>
<rect x="1040.61" y="416.7" width="1.2" height="15.6" fill="#e0384d"/>
<rect x="1040.16" y="419.0" width="2.1" height="10.2" fill="#e0384d"/>
<rect x="1044.05" y="407.3" width="1.2" height="28.2" fill="#ffffff"/>
<rect x="1043.60" y="408.0" width="2.1" height="21.2" fill="#ffffff"/>
<rect x="1047.48" y="390.0" width="1.2" height="19.0" fill="#ffffff"/>
<rect x="1047.03" y="396.4" width="2.1" height="11.6" fill="#ffffff"/>
<rect x="1050.92" y="371.0" width="1.2" height="27.0" fill="#ffffff"/>
<rect x="1050.47" y="373.4" width="2.1" height="23.8" fill="#ffffff"/>
<rect x="1054.36" y="372.7" width="1.2" height="11.3" fill="#e0384d"/>
<rect x="1053.91" y="373.4" width="2.1" height="9.4" fill="#e0384d"/>
<rect x="1057.80" y="382.0" width="1.2" height="17.5" fill="#e0384d"/>
<rect x="1057.35" y="383.0" width="2.1" height="11.8" fill="#e0384d"/>
<rect x="1061.23" y="385.5" width="1.2" height="17.9" fill="#e0384d"/>
<rect x="1060.78" y="394.0" width="2.1" height="4.0" fill="#e0384d"/>
<rect x="1064.67" y="372.7" width="1.2" height="39.3" fill="#ffffff"/>
<rect x="1064.22" y="386.2" width="2.1" height="11.8" fill="#ffffff"/>
<rect x="1068.11" y="381.2" width="1.2" height="13.6" fill="#e0384d"/>
<rect x="1067.66" y="386.2" width="2.1" height="5.4" fill="#e0384d"/>
<line x1="567" y1="383.5" x2="732" y2="175" stroke="#f2f2f2" stroke-width="1.45"/>
<line x1="732" y1="175" x2="797" y2="315.1" stroke="#f2f2f2" stroke-width="1.45"/>
<line x1="797" y1="315.1" x2="852.5" y2="221" stroke="#f2f2f2" stroke-width="1.45"/>
<line x1="852.5" y1="221" x2="1044.5" y2="480" stroke="#f2f2f2" stroke-width="1.45"/>
<polyline points="1096.2,392.3 1109.5,331.5 1130.5,365.4 1151.1,244.6" fill="none" stroke="#d5e6e8" stroke-width="1.1" stroke-linejoin="miter"/>
<polyline points="1148,248.6 1151.2,244.2 1153.6,249" fill="none" stroke="#d5e6e8" stroke-width="1.1"/>
<circle cx="1069.05" cy="533" r="6.6" fill="none" stroke="#b060c8" stroke-width="1.2"/>
<path d="M1070.4 528.3 L1066.1 533.7 L1068.7 533.7 L1067.6 537.7 L1072 532.1 L1069.4 532.1 Z" fill="#b455d0"/>
</svg>
<div class="legend">
<span style="left:0;transform:scaleX(0.922);transform-origin:0 0">LINKUSDT.P · 4h · Binance</span>
<span style="left:96.5px">O</span><span class="r" style="left:102px">21.380</span>
<span style="left:130.5px">H</span><span class="r" style="left:136px">21.505</span>
<span style="left:164.5px">L</span><span class="r" style="left:169.5px">21.187</span>
<span style="left:197px">C</span><span class="r" style="left:203px">21.291</span>
<span class="r" style="left:230px">-0.089 (-0.42%)</span>
<span style="left:291px">Vol</span><span class="r" style="left:302.5px">927.78K</span>
</div>

<div class="pl" style="top:55.55px">28.000</div><div class="pl" style="top:80.23px">27.500</div><div class="pl" style="top:104.90px">27.000</div><div class="pl" style="top:129.57px">26.500</div><div class="pl" style="top:154.25px">26.000</div><div class="pl" style="top:178.92px">25.500</div><div class="pl" style="top:203.60px">25.000</div><div class="pl" style="top:228.27px">24.500</div><div class="pl" style="top:252.95px">24.000</div><div class="pl" style="top:277.62px">23.500</div><div class="pl" style="top:302.30px">23.000</div><div class="pl" style="top:326.98px">22.500</div><div class="pl" style="top:351.65px">22.000</div><div class="pl" style="top:376.33px">21.500</div><div class="pl" style="top:425.68px">20.500</div><div class="pl" style="top:450.35px">20.000</div><div class="pl" style="top:475.03px">19.500</div><div class="pl" style="top:499.70px">19.000</div><div class="pl" style="top:524.38px">18.500</div>
<div class="tl" style="left:-20.2px">9</div><div class="tl" style="left:21.0px">11</div><div class="tl" style="left:62.3px">13</div><div class="tl" style="left:103.5px">15</div><div class="tl" style="left:144.8px">17</div><div class="tl" style="left:186.0px">19</div><div class="tl" style="left:227.3px">21</div><div class="tl" style="left:268.5px">23</div><div class="tl" style="left:309.8px">25</div><div class="tl" style="left:351.0px">27</div><div class="tl" style="left:392.2px">29</div><div class="tl" style="left:454.1px">Sep</div><div class="tl" style="left:495.3px">3</div><div class="tl" style="left:536.6px">5</div><div class="tl" style="left:577.8px">7</div><div class="tl" style="left:619.1px">9</div><div class="tl" style="left:660.3px">11</div><div class="tl" style="left:701.6px">13</div><div class="tl" style="left:742.8px">15</div><div class="tl" style="left:784.1px">17</div><div class="tl" style="left:825.3px">19</div><div class="tl" style="left:866.5px">21</div><div class="tl" style="left:907.8px">23</div><div class="tl" style="left:949.0px">25</div><div class="tl" style="left:990.3px">27</div><div class="tl" style="left:1031.5px">29</div><div class="tl" style="left:1072.8px">Oct</div><div class="tl" style="left:1114.0px">3</div><div class="tl" style="left:1155.3px">5</div><div class="tl" style="left:1196.5px">7</div>
<div class="wm">t.me/BinanceKillers</div>
<div class="unit"><span style="display:inline-block;transform:scaleX(0.86);transform-origin:0 50%">USDT</span></div>
<div class="pt" style="top:30.4px;width:32.5px;height:11.4px;line-height:12.2px;background:#19b4d6;color:#0b3550;font-weight:normal"><span style="-webkit-text-stroke:0.25px #0b3550">28.504</span></div>
<div class="pt" style="top:387.2px;width:39.8px;height:19.6px;background:#5b5b5b;line-height:10px"><span style="position:absolute;left:5.5px;top:0.1px">21.291</span><span style="position:absolute;left:5.5px;top:9.75px;transform:scaleX(0.89);font-weight:normal;color:#d6d6d6;-webkit-text-stroke:0.15px #d6d6d6">02:49:58</span></div>
<div class="pt" style="top:407px;width:32.3px;height:11.7px;line-height:12.4px;background:#7e7e7e"><span>21.151</span></div>
<div class="pt" style="top:464.7px;width:32.3px;height:11.1px;line-height:11.1px;background:#ea324b"><span>19.710</span></div>
</body></html>
